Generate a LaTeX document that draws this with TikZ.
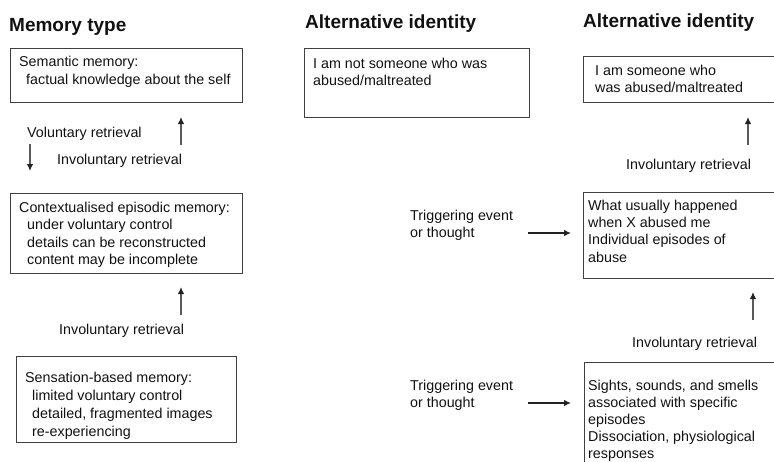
\documentclass[tikz,border=0pt]{standalone}
\usepackage{fontspec}
\setmainfont{Liberation Sans}
\usetikzlibrary{arrows.meta}
\definecolor{boxline}{HTML}{404040}
\definecolor{arrline}{HTML}{5A5A5A}
\definecolor{arrdark}{HTML}{222222}
\definecolor{txt}{HTML}{111111}
\tikzset{
  box/.style={draw=boxline, line width=1pt, inner sep=0pt, outer sep=0pt, anchor=north west},
  head/.style={font=\fontsize{19}{22}\selectfont\bfseries, text=txt, inner sep=0pt, anchor=base west},
  body/.style={font=\fontsize{14.3}{17.6}\selectfont, text=txt, inner sep=0pt, anchor=base west, align=left},
  arr/.style={draw=arrline, line width=1.2pt, -{Latex[length=7pt,width=6.5pt,fill=arrdark,color=arrdark]}},
  harr/.style={arr, draw=arrdark},
}
\begin{document}
\begin{tikzpicture}[x=1pt,y=-1pt]
\path[use as bounding box] (0,0) rectangle (774,461);
\clip (0,0) rectangle (774,461);
% headings
\node[head] (h1) at (9,31) {Memory type};
\node[head] (h2) at (305,28) {Alternative identity};
\node[head] (h3) at (583,27) {Alternative identity};
% boxes
\node[box, minimum width=232, minimum height=54] (b1) at (10,48) {};
\node[box, minimum width=232, minimum height=80] (b2) at (10,193) {};
\node[box, minimum width=220, minimum height=86] (b3) at (16,356) {};
\node[box, minimum width=225, minimum height=69] (m1) at (304,48) {};
\node[box, minimum width=220, minimum height=46] (r1) at (583,56) {};
\node[box, minimum width=220, minimum height=86] (r2) at (583,192) {};
\node[box, minimum width=220, minimum height=130] (r3) at (584,362) {};
% box texts (anchor = baseline of the last line)
\node[body, font=\fontsize{14.3}{18}\selectfont] (t1) at (19,84) {Semantic memory:\\\hspace*{7pt}factual knowledge about the self};
\node[body, font=\fontsize{14.3}{17.5}\selectfont] (t2) at (19,264.5) {Contextualised episodic memory:\\\hspace*{8pt}under voluntary control\\\hspace*{8pt}details can be reconstructed\\\hspace*{8pt}content may be incomplete};
\node[body, font=\fontsize{14.3}{18}\selectfont] (t3) at (25,436) {Sensation-based memory:\\\hspace*{7pt}limited voluntary control\\\hspace*{7pt}detailed, fragmented images\\\hspace*{7pt}re-experiencing};
\node[body, font=\fontsize{14.3}{17}\selectfont] (tm) at (313,85) {I am not someone who was\\abused/maltreated};
\node[body, font=\fontsize{14.3}{17}\selectfont] (tr1) at (595,92) {I am someone who\\was abused/maltreated};
\node[body, font=\fontsize{14.3}{17.3}\selectfont] (tr2) at (588,262) {What usually happened\\when X abused me\\Individual episodes of\\abuse};
\node[body, font=\fontsize{14.3}{17}\selectfont] (tr3) at (588,458) {Sights, sounds, and smells\\associated with specific\\episodes\\Dissociation, physiological\\responses};
% labels
\node[body] (vr) at (27,137) {Voluntary retrieval};
\node[body] (ir1) at (57,164) {Involuntary retrieval};
\node[body] (ir2) at (59,334) {Involuntary retrieval};
\node[body] (ir3) at (626,169) {Involuntary retrieval};
\node[body] (ir4) at (632,347) {Involuntary retrieval};
\node[body, font=\fontsize{14.3}{17}\selectfont] (tg1) at (410,237) {Triggering event\\or thought};
\node[body, font=\fontsize{14.3}{17}\selectfont] (tg2) at (410,407) {Triggering event\\or thought};
% arrow end points
\coordinate (a1s) at (30,144); \coordinate (a1e) at (30,171);
\coordinate (a2s) at (181,145); \coordinate (a2e) at (181,117);
\coordinate (a3s) at (181,315); \coordinate (a3e) at (181,287);
\coordinate (a4s) at (748,145); \coordinate (a4e) at (748,117);
\coordinate (a5s) at (753,320); \coordinate (a5e) at (753,292);
\coordinate (a6s) at (528,233); \coordinate (a6e) at (571,233);
\coordinate (a7s) at (528,403); \coordinate (a7e) at (571,403);
\draw[arr] (a1s) -- (a1e);
\draw[arr] (a2s) -- (a2e);
\draw[arr] (a3s) -- (a3e);
\draw[arr] (a4s) -- (a4e);
\draw[arr] (a5s) -- (a5e);
\draw[harr] (a6s) -- (a6e);
\draw[harr] (a7s) -- (a7e);
\end{tikzpicture}
\end{document}
